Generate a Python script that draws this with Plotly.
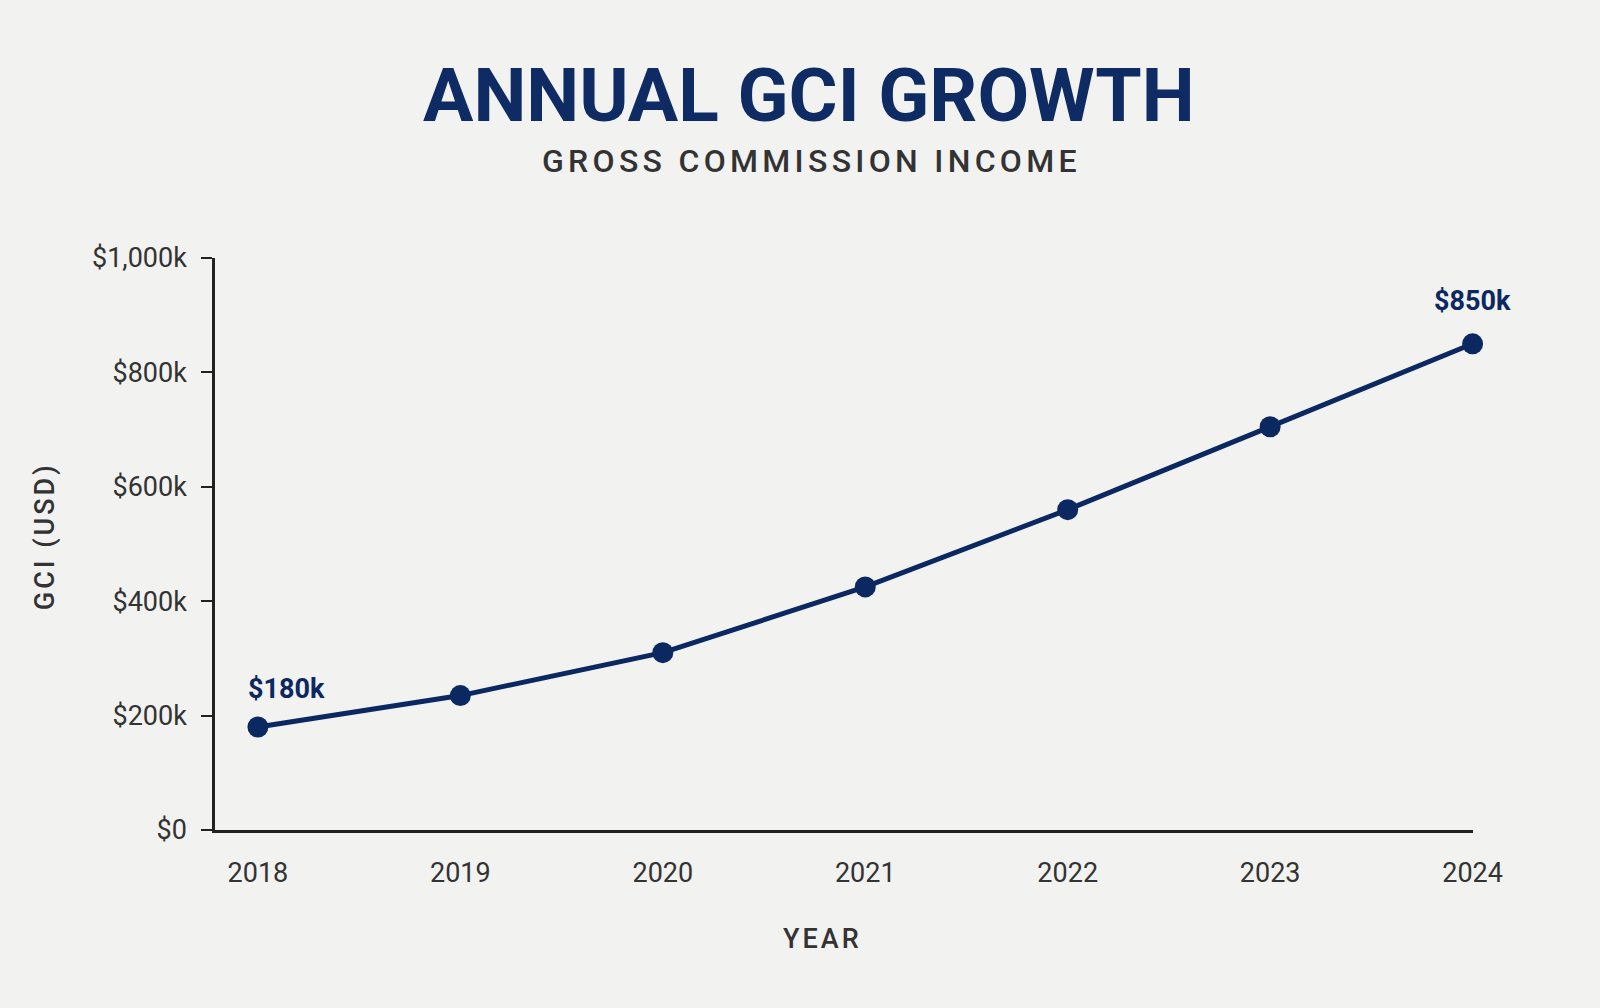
import plotly.graph_objects as go

years = [2018, 2019, 2020, 2021, 2022, 2023, 2024]
gci_k = [180, 235, 310, 425, 560, 705, 850]
y_ticks = [0, 200, 400, 600, 800, 1000]
y_tick_labels = ["$0", "$200k", "$400k", "$600k", "$800k", "$1,000k"]

NAVY = "#0b2860"
GREY = "#333333"
BG = "#f2f2f1"

fig = go.Figure(go.Scatter(
    x=years, y=gci_k, mode="lines+markers",
    line=dict(color=NAVY, width=5),
    marker=dict(color=NAVY, size=21),
    cliponaxis=False, hoverinfo="x+y", showlegend=False,
))

# value labels on first and last points
fig.add_annotation(x=years[0], y=gci_k[0], text="<b>$180k</b>", showarrow=False,
                   xanchor="left", yanchor="middle", xshift=-12, yshift=38,
                   font=dict(family="Roboto", size=27, color=NAVY))
fig.add_annotation(x=years[-1], y=gci_k[-1], text="<b>$850k</b>", showarrow=False,
                   xanchor="center", yanchor="middle", yshift=43,
                   font=dict(family="Roboto", size=27, color=NAVY))

fig.add_annotation(xref="paper", yref="paper", x=0.472, y=1.285, showarrow=False,
                   text="<b>ANNUAL GCI GROWTH</b>", xanchor="center", yanchor="middle",
                   font=dict(family="Roboto", size=75, color="#0f2b63"))
fig.add_annotation(xref="paper", yref="paper", x=0.474, y=1.170, showarrow=False,
                   text="<span style='letter-spacing:4.3px'>GROSS COMMISSION INCOME</span>",
                   xanchor="center", yanchor="middle",
                   font=dict(family="Roboto", size=32, color=GREY, weight=500))
fig.add_annotation(xref="paper", yref="paper", x=0.483, y=-0.19, showarrow=False,
                   text="<span style='letter-spacing:3px'>YEAR</span>",
                   xanchor="center", yanchor="middle",
                   font=dict(family="Roboto", size=27, color=GREY, weight=500))
fig.add_annotation(xref="paper", yref="paper", x=-0.135, y=0.514, showarrow=False,
                   text="<span style='letter-spacing:3px'>GCI (USD)</span>", textangle=-90,
                   xanchor="center", yanchor="middle",
                   font=dict(family="Roboto", size=27, color=GREY, weight=500))

fig.update_xaxes(range=[2017.788, 2024.002], tickvals=years, showgrid=False, zeroline=False,
                 showline=True, linecolor="#222222", linewidth=2.5, ticks="",
                 ticklabelstandoff=17, tickfont=dict(family="Roboto", size=27, color=GREY))
fig.update_yaxes(range=[0, 1000], tickvals=y_ticks, ticktext=y_tick_labels, showgrid=False,
                 zeroline=False, showline=True, linecolor="#222222", linewidth=2.5,
                 ticks="outside", ticklen=11, tickwidth=2, tickcolor="#222222",
                 ticklabelstandoff=9, tickfont=dict(family="Roboto", size=27, color=GREY))

fig.update_layout(width=1600, height=1008, paper_bgcolor=BG, plot_bgcolor=BG,
                  margin=dict(l=215, r=127, t=258, b=178))

fig.write_html("out.html", config={"displayModeBar": False},
               post_script="document.body.style.margin='0';"
               "document.body.style.background='%s';" % BG)
